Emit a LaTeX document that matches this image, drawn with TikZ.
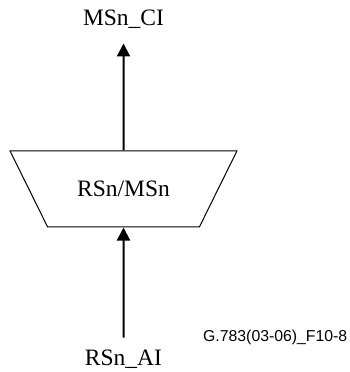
\documentclass[tikz,border=0pt]{standalone}
\usepackage{fontspec}
\setmainfont{Liberation Serif}
\newfontfamily\figfont{Liberation Sans}
\usetikzlibrary{arrows.meta,positioning,shapes.geometric}

\begin{document}
\begin{tikzpicture}[x=1pt,y=1pt,node distance=20pt]
	\tikzstyle{fn}
	  =[draw, line width=1pt, trapezium, trapezium angle=63.7,
	  shape border rotate=180, text height=16pt, text depth=0pt,
	  inner xsep=29.5pt, inner ysep=30pt,
	  font=\fontsize{23.5}{26}\selectfont]
	\tikzstyle{pt}
	  =[inner sep=0pt, text depth=0pt,
	  font=\fontsize{23.5}{26}\selectfont]
	\tikzstyle{sig}
	  =[line width=2pt, -{Triangle[width=13pt,length=13pt]}]

	\useasboundingbox (0,0) rectangle (350,372);

	\node[fn] (rsms)
	  at (123.5,183) {RSn/MSn};
	\node[pt] (ci)
	  [above=125pt of rsms] {MSn\_CI};
	\node[pt] (ai)
	  [below=122pt of rsms] {RSn\_AI};
	\node[inner sep=0pt, anchor=base west,
	  font=\figfont\fontsize{15.8}{18}\selectfont] (fig)
	  at (203,30) {G.783(03-06)\_F10-8};

	\draw[sig] (rsms) -- (ci) [shorten >=18pt];
	\draw[sig, shorten <=12pt] (ai) -- (rsms);
\end{tikzpicture}
\end{document}
